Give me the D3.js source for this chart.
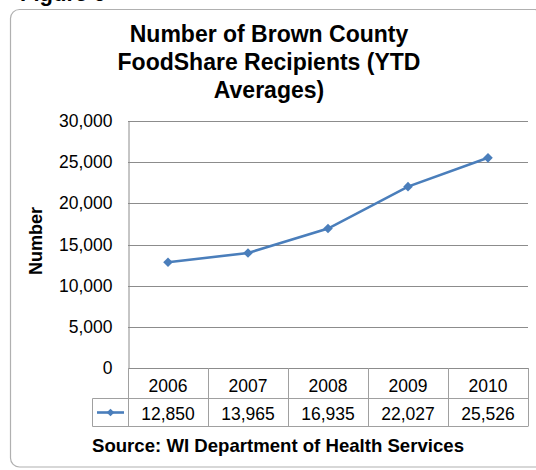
<!DOCTYPE html>
<html><head><meta charset="utf-8">
<script src="https://cdnjs.cloudflare.com/ajax/libs/d3/7.8.5/d3.min.js"></script>
<style>body{margin:0;background:#fff}svg{display:block}text{font-family:"Liberation Sans",Arial,sans-serif}</style>
</head><body>
<script>
const years = ["2006","2007","2008","2009","2010"];
const recipients = [12850, 13965, 16935, 22027, 25526];
const yTicks = [0, 5000, 10000, 15000, 20000, 25000, 30000];
const titleLines = ["Number of Brown County", "FoodShare Recipients (YTD", "Averages)"];
const yAxisTitle = "Number";
const sourceText = "Source: WI Department of Health Services";
const captionText = "Figure 6";

const W = 536, H = 470;
const svg = d3.select("body").append("svg").attr("width", W).attr("height", H);
const fmt = d3.format(",");
const blue = "#4a7ebb", grid = "#8c8c8c", tableLine = "#a0a0a0";

// cut-off figure caption at top (only its lower edge shows)
svg.append("text").attr("x", 20).attr("y", 0.8).attr("font-size", 22).attr("font-weight", "bold").text(captionText);

// frame (right edge runs past the picture)
svg.append("rect").attr("x", 10.5).attr("y", 9.5).attr("width", 533).attr("height", 457.5)
  .attr("rx", 9).attr("fill", "#fff").attr("stroke", "#b0b0b0").attr("stroke-width", 1.2);

// title
svg.append("g").selectAll("text").data(titleLines).join("text")
  .attr("x", 269).attr("y", (d, i) => 41.5 + i * 28)
  .attr("text-anchor", "middle").attr("font-size", 23).attr("font-weight", "bold").attr("fill", "#000")
  .text(d => d);

const L = 128, R = 528, T = 121, B = 368;
const x = d3.scaleBand().domain(years).range([L, R]);
const y = d3.scaleLinear().domain([0, 30000]).range([B, T]);

// gridlines
svg.append("g").selectAll("line").data(yTicks).join("line")
  .attr("x1", L).attr("x2", R).attr("y1", d => Math.round(y(d)) + 0.5).attr("y2", d => Math.round(y(d)) + 0.5)
  .attr("stroke", grid).attr("stroke-width", 1);

// y axis
const yAxis = d3.axisLeft(y).tickValues(yTicks).tickFormat(fmt).tickSize(0).tickPadding(16);
const ga = svg.append("g").attr("transform", `translate(${L + 0.5},0)`).call(yAxis);
ga.select(".domain").attr("stroke", grid);
ga.selectAll("text").attr("font-size", 17.5).attr("fill", "#000").attr("font-family", '"Liberation Sans",Arial,sans-serif');

// y axis title
svg.append("text").attr("transform", "translate(42,241) rotate(-90)")
  .attr("text-anchor", "middle").attr("font-size", 18).attr("font-weight", "bold").text(yAxisTitle);

// line
const line = d3.line().x((d, i) => x(years[i]) + x.bandwidth() / 2).y(d => y(d));
svg.append("path").datum(recipients).attr("d", line).attr("fill", "none")
  .attr("stroke", blue).attr("stroke-width", 2.6);
const diamond = d3.symbol().type(d3.symbolSquare).size(46);
svg.append("g").selectAll("path").data(recipients).join("path")
  .attr("d", diamond)
  .attr("transform", (d, i) => `translate(${x(years[i]) + x.bandwidth() / 2},${y(d)}) rotate(45)`)
  .attr("fill", blue);

// data table
const r1 = B, r2 = 398.5, r3 = 426.5, legL = 92.5;
const tg = svg.append("g").attr("stroke", tableLine).attr("stroke-width", 1);
tg.append("line").attr("x1", legL).attr("x2", R).attr("y1", r2).attr("y2", r2);
tg.append("line").attr("x1", legL).attr("x2", R).attr("y1", r3).attr("y2", r3);
const vx = years.map(d => x(d)).concat([R]);
tg.selectAll("line.v").data(vx).join("line").attr("class", "v")
  .attr("x1", d => Math.round(d) + 0.5).attr("x2", d => Math.round(d) + 0.5).attr("y1", r1).attr("y2", r3);
tg.append("line").attr("x1", legL).attr("x2", legL).attr("y1", r2).attr("y2", r3);

svg.append("g").selectAll("text").data(years).join("text")
  .attr("x", d => x(d) + x.bandwidth() / 2).attr("y", 392).attr("text-anchor", "middle")
  .attr("font-size", 17.5).text(d => d);
svg.append("g").selectAll("text").data(recipients).join("text")
  .attr("x", (d, i) => x(years[i]) + x.bandwidth() / 2).attr("y", 420).attr("text-anchor", "middle")
  .attr("font-size", 17.5).text(d => fmt(d));

// legend key
const ly = (r2 + r3) / 2;
svg.append("line").attr("x1", 97).attr("x2", 124).attr("y1", ly).attr("y2", ly).attr("stroke", blue).attr("stroke-width", 2.6);
svg.append("path").attr("d", d3.symbol().type(d3.symbolSquare).size(30)).attr("transform", `translate(110.5,${ly}) rotate(45)`).attr("fill", blue);

// source
svg.append("text").attr("x", 92).attr("y", 452).attr("font-size", 18.6).attr("font-weight", "bold").text(sourceText);
</script>
</body></html>
